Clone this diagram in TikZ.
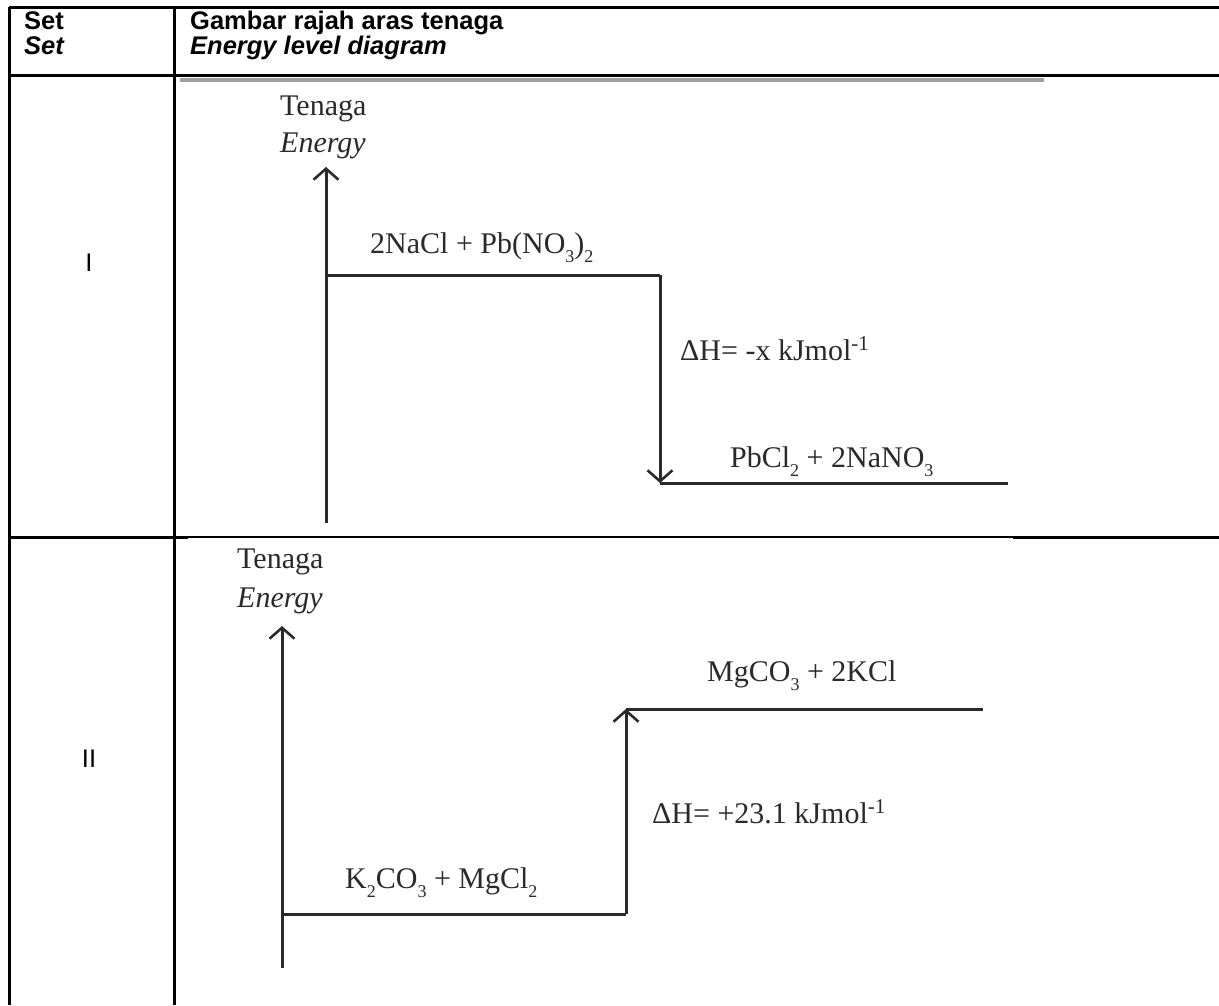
\documentclass[tikz,border=0pt]{standalone}
\usepackage{fontspec}
\setmainfont{Liberation Serif}
\newfontfamily\hdrfont{Liberation Sans}
\usetikzlibrary{arrows.meta}
\definecolor{ink}{HTML}{2A2A2A}
\newcommand{\lowsub}[1]{\raisebox{-0.32em}{\fontsize{18}{20}\selectfont #1}}
\tikzset{
  tblline/.style={line width=3pt, black},
  thinline/.style={line width=1.5pt, black},
  levelline/.style={line width=3pt, ink, line cap=butt},
  barb/.style={-{Straight Barb[length=11pt,width=25pt,line width=2.6pt]}},
  hdr/.style={font=\hdrfont\bfseries\fontsize{25.5}{30}\selectfont, anchor=base west, inner sep=0pt},
  hdri/.style={font=\hdrfont\bfseries\itshape\fontsize{25.5}{30}\selectfont, anchor=base west, inner sep=0pt},
  lbl/.style={font=\fontsize{30}{36}\selectfont, text=ink, anchor=base west, inner sep=0pt},
  lbli/.style={font=\itshape\fontsize{30}{36}\selectfont, text=ink, anchor=base west, inner sep=0pt},
  rowlbl/.style={font=\hdrfont\fontsize{25.5}{30}\selectfont, anchor=center, inner sep=0pt}
}
\begin{document}
\begin{tikzpicture}[x=1pt,y=-1pt]
\useasboundingbox[fill=white] (0,0) rectangle (1219,1005);
% table
\coordinate (tl) at (9,7);
\coordinate (tr) at (1219,7);
\coordinate (hl) at (9,75);
\coordinate (hr) at (1219,75);
\coordinate (bl) at (9,1005);
\coordinate (dt) at (174,7);
\coordinate (db) at (174,1005);
\coordinate (s1) at (9,537);
\coordinate (s2) at (188,537);
\coordinate (s3) at (1013,537);
\coordinate (s4) at (1219,537);
\draw[tblline] (tl) -- (tr);
\draw[tblline] (hl) -- (hr);
\draw[tblline] (tl) -- (bl);
\draw[tblline] (dt) -- (db);
\draw[tblline] (s1) -- (s2);
\draw[thinline] (s2) -- (s3);
\draw[tblline] (s3) -- (s4);
\coordinate (g1) at (180,79.5);
\coordinate (g2) at (1044,79.5);
\draw[line width=4pt, gray!75] (g1) -- (g2);
% header
\node[hdr] (h1) at (24,29) {Set};
\node[hdri] (h2) at (24,54) {Set};
\node[hdr] (h3) at (190,29) {Gambar rajah aras tenaga};
\node[hdri] (h4) at (190,54) {Energy level diagram};
\node[rowlbl] (r1) at (89,263) {I};
\node[rowlbl] (r2) at (89,759) {II};
% diagram I
\node[lbl] (t1) at (280,115) {Tenaga};
\node[lbli] (e1) at (280,152) {Energy};
\coordinate (a1b) at (326,523);
\coordinate (a1t) at (326,167);
\coordinate (u1) at (326,275);
\coordinate (u2) at (660,275);
\coordinate (d1) at (660,483);
\coordinate (d2) at (1008,483);
\draw[levelline, barb] (a1b) -- (a1t);
\draw[levelline] (u1) -- (u2);
\draw[levelline, barb] (u2) -- (d1);
\draw[levelline] (d1) -- (d2);
\node[lbl] (l1) at (370,253) {2NaCl + Pb(NO\lowsub{3})\lowsub{2}};
\node[lbl] (l2) at (680,360) {ΔH= -x kJmol\textsuperscript{-1}};
\node[lbl] (l3) at (730,467) {PbCl\lowsub{2} + 2NaNO\lowsub{3}};
% diagram II
\node[lbl] (t2) at (237,568) {Tenaga};
\node[lbli] (e2) at (237,607) {Energy};
\coordinate (a2b) at (282,968);
\coordinate (a2t) at (282,626);
\coordinate (p1) at (282,914);
\coordinate (p2) at (626,914);
\coordinate (q1) at (626,709);
\coordinate (q2) at (983,709);
\draw[levelline, barb] (a2b) -- (a2t);
\draw[levelline] (p1) -- (p2);
\draw[levelline, barb] (p2) -- (q1);
\draw[levelline] (q1) -- (q2);
\node[lbl] (m1) at (707,681) {MgCO\lowsub{3} + 2KCl};
\node[lbl] (m2) at (652,823) {ΔH= +23.1 kJmol\textsuperscript{-1}};
\node[lbl] (m3) at (345,888) {K\lowsub{2}CO\lowsub{3} + MgCl\lowsub{2}};
\end{tikzpicture}
\end{document}
